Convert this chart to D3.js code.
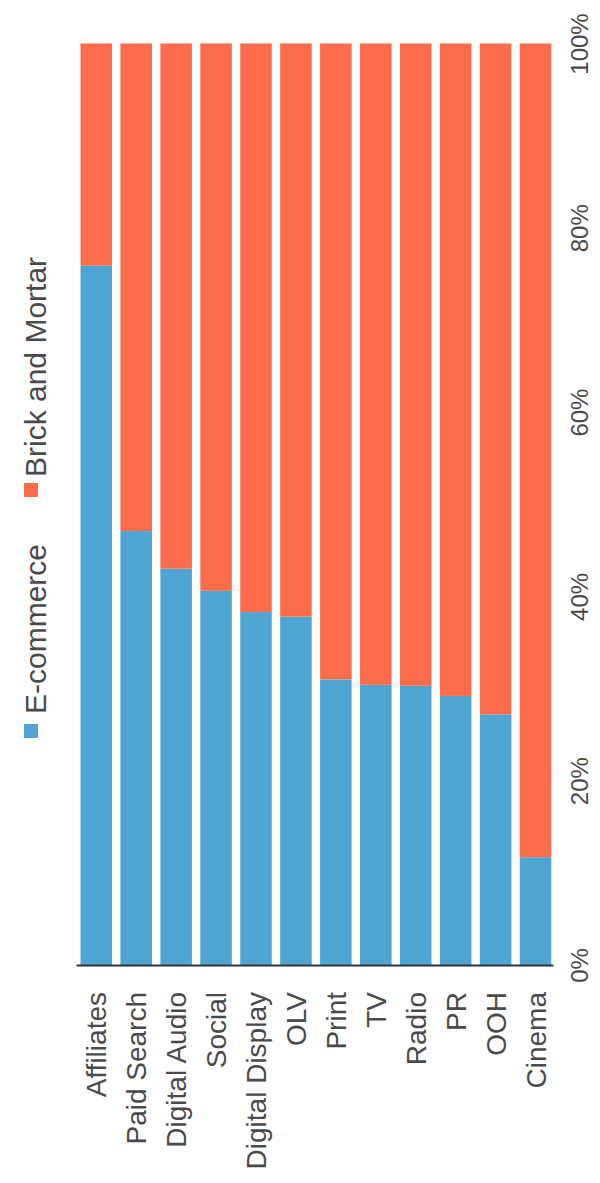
<!DOCTYPE html>
<html>
<head>
<meta charset="utf-8">
<script src="https://cdn.jsdelivr.net/npm/d3@7"></script>
<style>
  html, body { margin: 0; padding: 0; background: #fff; }
  svg { display: block; }
  text { font-family: "Liberation Sans", Arial, Helvetica, sans-serif; fill: #4a4a4a; }
</style>
</head>
<body>
<svg id="chart" width="600" height="1183"></svg>
<script>
const categories = ["Affiliates", "Paid Search", "Digital Audio", "Social", "Digital Display", "OLV", "Print", "TV", "Radio", "PR", "OOH", "Cinema"];
const ecommerce = [75.9, 47.1, 43.0, 40.6, 38.3, 37.8, 31.0, 30.4, 30.3, 29.2, 27.2, 11.7];
const brickAndMortar = [24.1, 52.9, 57.0, 59.4, 61.7, 62.2, 69.0, 69.6, 69.7, 70.8, 72.8, 88.3];
const seriesNames = ["E-commerce", "Brick and Mortar"];
const seriesColors = ["#4ea5d4", "#fe6d4b"];
const tickValues = [0, 20, 40, 60, 80, 100];

const svg = d3.select("#chart");

const table = categories.map((c, i) => ({
  category: c,
  "E-commerce": ecommerce[i],
  "Brick and Mortar": brickAndMortar[i]
}));

const x = d3.scaleBand()
  .domain(categories)
  .range([76.5, 555.3])
  .paddingInner(0.21)
  .paddingOuter(0.1);

const y = d3.scaleLinear().domain([0, 100]).range([965, 43.5]);

const color = d3.scaleOrdinal().domain(seriesNames).range(seriesColors);

const stacked = d3.stack().keys(seriesNames)(table);

svg.append("g")
  .selectAll("g")
  .data(stacked)
  .join("g")
  .attr("fill", d => color(d.key))
  .selectAll("rect")
  .data(d => d)
  .join("rect")
  .attr("x", d => x(d.data.category))
  .attr("width", x.bandwidth())
  .attr("y", d => y(d[1]))
  .attr("height", d => y(d[0]) - y(d[1]));

// Category axis (bottom), labels rotated
const xAxis = svg.append("g")
  .attr("transform", `translate(0,${y(0)})`)
  .call(d3.axisBottom(x).tickSize(0).tickSizeOuter(0));
xAxis.select(".domain")
  .attr("d", `M76.5,0.5H553.5`)
  .attr("stroke", "#333")
  .attr("stroke-width", 2.2);
xAxis.selectAll(".tick text")
  .attr("x", 0).attr("y", 0).attr("dy", 0)
  .attr("transform", "translate(10,27) rotate(-90)")
  .attr("text-anchor", "end")
  .style("font-size", "28px")
  .style("font-family", "'Liberation Sans', Arial, sans-serif")
  .attr("fill", "#4a4a4a");

// Value axis (right), labels rotated
const yAxis = svg.append("g")
  .attr("transform", "translate(579,0)")
  .call(d3.axisRight(y).tickValues(tickValues).tickFormat(d => d + "%").tickSize(0));
yAxis.select(".domain").remove();
yAxis.selectAll(".tick text")
  .attr("x", 0).attr("y", 0).attr("dy", "0.36em")
  .attr("transform", "rotate(-90)")
  .attr("text-anchor", "middle")
  .style("font-size", "24px")
  .style("font-family", "'Liberation Sans', Arial, sans-serif")
  .attr("fill", "#555");

// Legend (rotated)
const legendPos = [{sy: 724, ty: 714}, {sy: 483, ty: 477}];
const legend = svg.append("g")
  .selectAll("g")
  .data(seriesNames)
  .join("g");
legend.append("rect")
  .attr("x", 24)
  .attr("y", (d, i) => legendPos[i].sy)
  .attr("width", 14)
  .attr("height", 14)
  .attr("fill", d => color(d));
legend.append("text")
  .attr("transform", (d, i) => `translate(46,${legendPos[i].ty}) rotate(-90)`)
  .attr("text-anchor", "start")
  .style("font-size", "30px")
  .attr("fill", "#4a4a4a")
  .text(d => d);
</script>
</body>
</html>
